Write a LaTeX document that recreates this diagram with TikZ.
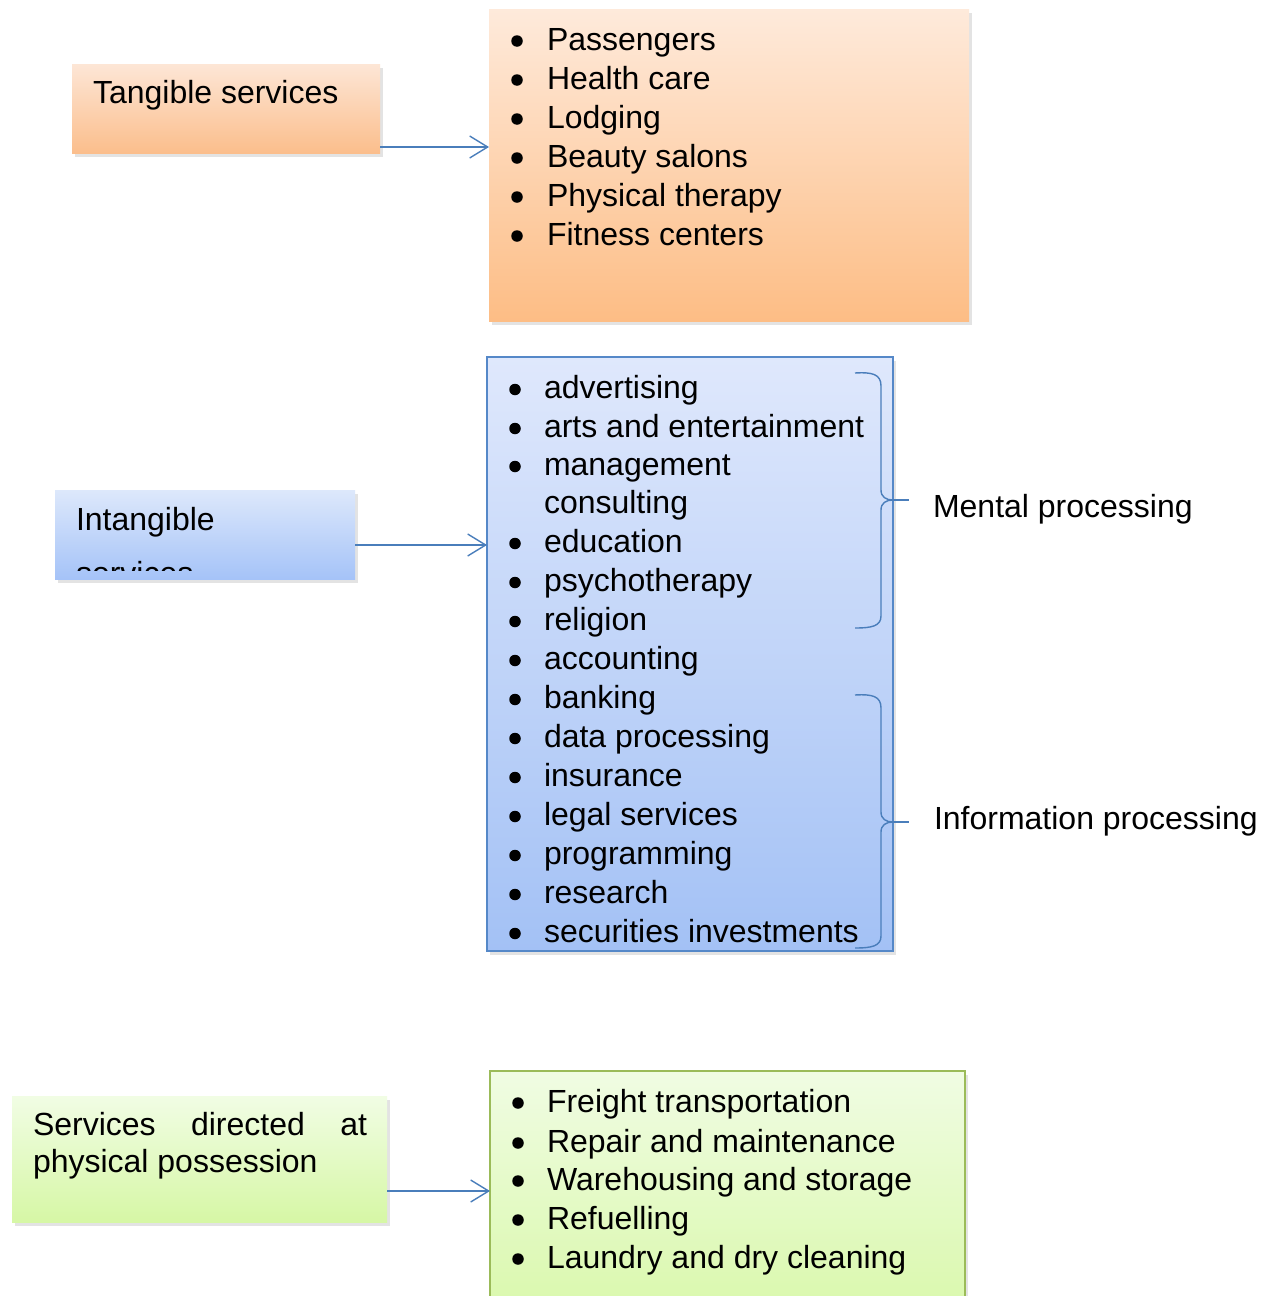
\documentclass[tikz,border=0pt]{standalone}
\usepackage{fontspec}
\setmainfont{Liberation Sans}
\usetikzlibrary{arrows.meta,shadows}
\definecolor{arrowblue}{HTML}{4A7EBB}
\definecolor{boxblue}{HTML}{5588C8}
\definecolor{boxgreen}{HTML}{9BBB59}
\begin{document}
\begin{tikzpicture}[x=1pt,y=-1pt,
  every node/.style={inner sep=0pt, outer sep=0pt},
  txt/.style={anchor=base west, font=\fontsize{32}{39}\selectfont},
  bul/.style={circle, fill=black, minimum size=11.5pt},
  panel/.style={rectangle, anchor=north west,
    drop shadow={shadow xshift=2.5pt, shadow yshift=-3.5pt, opacity=0.22}},
  arr/.style={draw=arrowblue, line width=1.4pt,
    -{Straight Barb[length=18pt,width=22pt,line width=1.4pt]}},
  bracestyle/.style={draw=arrowblue, line width=1.4pt}
]
\useasboundingbox (0,0) rectangle (1272,1296);
\fill[white] (0,0) rectangle (1272,1296);
\clip (0,0) rectangle (1272,1296);

% ---------- panels ----------
\node[panel, minimum width=308pt, minimum height=89pt,
  top color={rgb,255:red,253;green,230;blue,214}, bottom color={rgb,255:red,251;green,190;blue,140}] (tang) at (72,64) {};
\node[panel, minimum width=480pt, minimum height=312pt,
  top color={rgb,255:red,254;green,234;blue,219}, bottom color={rgb,255:red,253;green,189;blue,133}] (olist) at (489,9) {};

\node[panel, minimum width=300pt, minimum height=89pt,
  top color={rgb,255:red,221;green,232;blue,251}, bottom color={rgb,255:red,165;green,195;blue,248}] (intg) at (55,490) {};
\node[panel, draw=boxblue, line width=1.3pt, minimum width=406pt, minimum height=594pt,
  top color={rgb,255:red,223;green,232;blue,252}, bottom color={rgb,255:red,163;green,193;blue,245}] (blist) at (487,357) {};

\node[panel, minimum width=375pt, minimum height=126pt,
  top color={rgb,255:red,241;green,253;blue,228}, bottom color={rgb,255:red,214;green,247;blue,165}] (phys) at (12,1096) {};
\node[panel, draw=boxgreen, line width=1.3pt, minimum width=475pt, minimum height=260pt,
  top color={rgb,255:red,240;green,252;blue,227}, bottom color={rgb,255:red,216;green,248;blue,168}] (glist) at (490,1071) {};

% ---------- left labels ----------
\node[txt] (tangtxt) at (93,103) {Tangible services};
\node[txt] (intgtxt) at (76,530) {Intangible};
\begin{scope}
  \clip (55,490) rectangle (355,570);
  \node[txt] (intgtxt2) at (76,584) {services};
\end{scope}
\node[txt] (phystxt1) at (33,1135) {\makebox[334pt][s]{Services directed at}};
\node[txt] (phystxt2) at (33,1172) {physical possession};

% ---------- orange list ----------
\foreach \t [count=\i] in {Passengers, Health care, Lodging, Beauty salons, Physical therapy, Fitness centers} {
  \pgfmathsetmacro\yb{50+39*(\i-1)}
  \node[bul] (ob\i) at (517,\yb-9) {};
  \node[txt] (ot\i) at (547,\yb) {\t};
}

% ---------- blue list ----------
\foreach \yb/\t [count=\i] in {398/advertising, 437/arts and entertainment, 475/management,
  552/education, 591/psychotherapy, 630/religion, 669/accounting, 708/banking,
  747/data processing, 786/insurance, 825/legal services, 864/programming,
  903/research, 942/securities investments} {
  \node[bul] (bb\i) at (515,\yb-8.5) {};
  \node[txt] (bt\i) at (544,\yb) {\t};
}
\node[txt] (btc) at (544,513) {consulting};

% ---------- green list ----------
\foreach \yb/\t [count=\i] in {1112/Freight transportation, 1152/Repair and maintenance,
  1190/Warehousing and storage, 1229/Refuelling, 1268/Laundry and dry cleaning} {
  \node[bul] (gb\i) at (518,\yb-9) {};
  \node[txt] (gt\i) at (547,\yb) {\t};
}

% ---------- braces ----------
\draw[bracestyle] (855,373) .. controls (872,372) and (881,374) .. (881,386)
  -- (881,490) .. controls (881,497) and (886,500) .. (893,500)
  .. controls (886,500) and (881,503) .. (881,510)
  -- (881,616) .. controls (881,626) and (872,628) .. (855,628);
\draw[bracestyle] (893,500) -- (909,500);
\draw[bracestyle] (855,695) .. controls (872,694) and (881,696) .. (881,708)
  -- (881,812) .. controls (881,819) and (886,822) .. (893,822)
  .. controls (886,822) and (881,825) .. (881,832)
  -- (881,936) .. controls (881,946) and (872,948) .. (855,948);
\draw[bracestyle] (893,822) -- (909,822);

\node[txt] (mental) at (933,517) {Mental processing};
\node[txt] (info) at (934,829) {Information processing};

% ---------- arrows ----------
\draw[arr] (tang.east |- 0,147) -- (olist.west |- 0,147);
\draw[arr] (intg.east |- 0,545) -- (blist.west |- 0,545);
\draw[arr] (phys.east |- 0,1191) -- (glist.west |- 0,1191);
\end{tikzpicture}
\end{document}
